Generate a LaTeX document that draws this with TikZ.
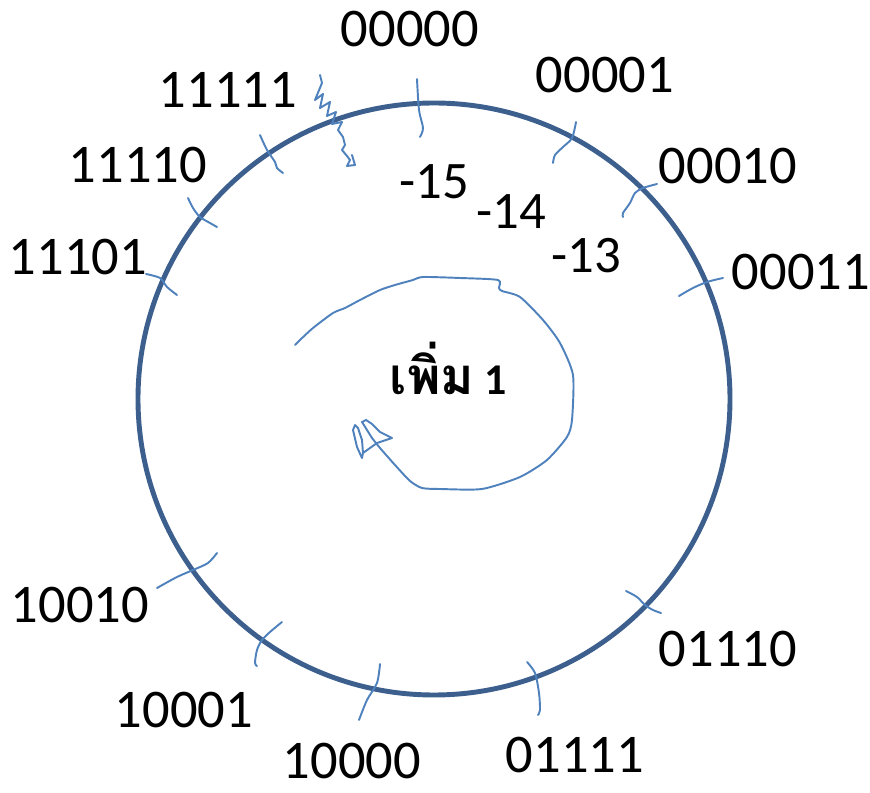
\documentclass[tikz,border=0pt]{standalone}
\usepackage{fontspec}
\setmainfont{Carlito}
\newfontfamily\thaifont[Script=Thai]{Loma}
\usepackage{tikz}
\definecolor{ringblue}{RGB}{60,95,142}
\definecolor{inkblue}{RGB}{79,129,189}
\tikzset{
  bits/.style={anchor=base,inner sep=0pt,font=\fontsize{31}{36}\selectfont},
  neg/.style={anchor=base,inner sep=0pt,font=\fontsize{30}{36}\selectfont},
  ring/.style={draw=ringblue,line width=2.8pt},
  nick/.style={draw=inkblue,line width=1.1pt,line cap=round,line join=round}
}

\begin{document}
\begin{tikzpicture}[x=0.02cm,y=-0.02cm]
  \useasboundingbox (0,0) rectangle (870,793);
  \draw[ring] (434,399) circle (296);
  \foreach \px/\py/\t in {410/47/00000,605/93/00001,728/184/00010,801/290/00011,
      228/108/11111,138/183/11110,78/275/11101,
      728/667/01110,575/773/01111,352/779/10000,184/728/10001,80/623/10010}
    \node[bits] (b\t) at (\px,\py) {\t};
  \node[neg] (m15) at (434,199) {-15};
  \node[neg] (m14) at (511,229) {-14};
  \node[neg] (m13) at (586,273) {-13};
  \node[anchor=base,inner sep=0pt,font=\fontsize{25}{30}\selectfont\bfseries] (plus) at (448,395)
    {{\thaifont\fontsize{29}{34}\selectfont เพิ่ม} 1};
  \draw[nick] plot[smooth] coordinates {(417,79) (419,110) (423,128) (420,137)};
  \draw[nick] plot coordinates {(320,75) (322,83) (315,100) (323,94) (320,108) (330,102) (327,116)
    (336,112) (332,124) (342,122) (338,130) (343,137) (345,145) (342,150) (347,156) (350,160)
    (347,166) (355,165) (352,155)};
  \draw[nick] plot[smooth] coordinates {(260,135) (267,150) (275,162) (277,168) (283,173)};
  \draw[nick] plot[smooth] coordinates {(188,198) (193,208) (200,217) (210,223) (217,227)};
  \draw[nick] plot[smooth] coordinates {(146,274) (160,278) (167,287) (177,295)};
  \draw[nick] plot[smooth] coordinates {(576,122) (572,138) (563,147) (555,155) (553,163)};
  \draw[nick] plot[smooth] coordinates {(657,184) (643,188) (635,193) (630,203) (623,213) (623,217)};
  \draw[nick] plot[smooth] coordinates {(723,278) (707,282) (693,288) (679,296)};
  \draw[nick] plot[smooth] coordinates {(626,591) (637,597) (645,605) (653,610) (661,613)};
  \draw[nick] plot[smooth] coordinates {(527,662) (535,673) (539,693) (540,710) (538,715)};
  \draw[nick] plot[smooth] coordinates {(380,664) (377,683) (367,700) (359,720)};
  \draw[nick] plot[smooth] coordinates {(282,622) (270,632) (262,640) (257,650) (255,663) (257,666)};
  \draw[nick] plot[smooth] coordinates {(217,553) (208,563) (193,570) (177,577) (157,588)};
  \draw[nick] plot[smooth,tension=0.4] coordinates {(295,345) (300,340) (313,328) (333,313) (345,308)
    (360,300) (380,290) (395,285) (413,280) (423,277) (460,278) (498,280) (499,288) (502,291)
    (520,297) (543,320) (560,343) (573,375) (572,420) (567,437) (547,460) (520,477) (482,489)
    (440,489) (422,488) (410,481) (395,465) (380,448) (372,438)};
  \draw[nick] plot coordinates {(372,438) (362,422) (366,420) (372,424) (380,432) (392,438)
    (377,443) (363,453) (362,458) (357,447) (353,430) (355,425) (358,428) (362,440) (363,453)};
\end{tikzpicture}
\end{document}
